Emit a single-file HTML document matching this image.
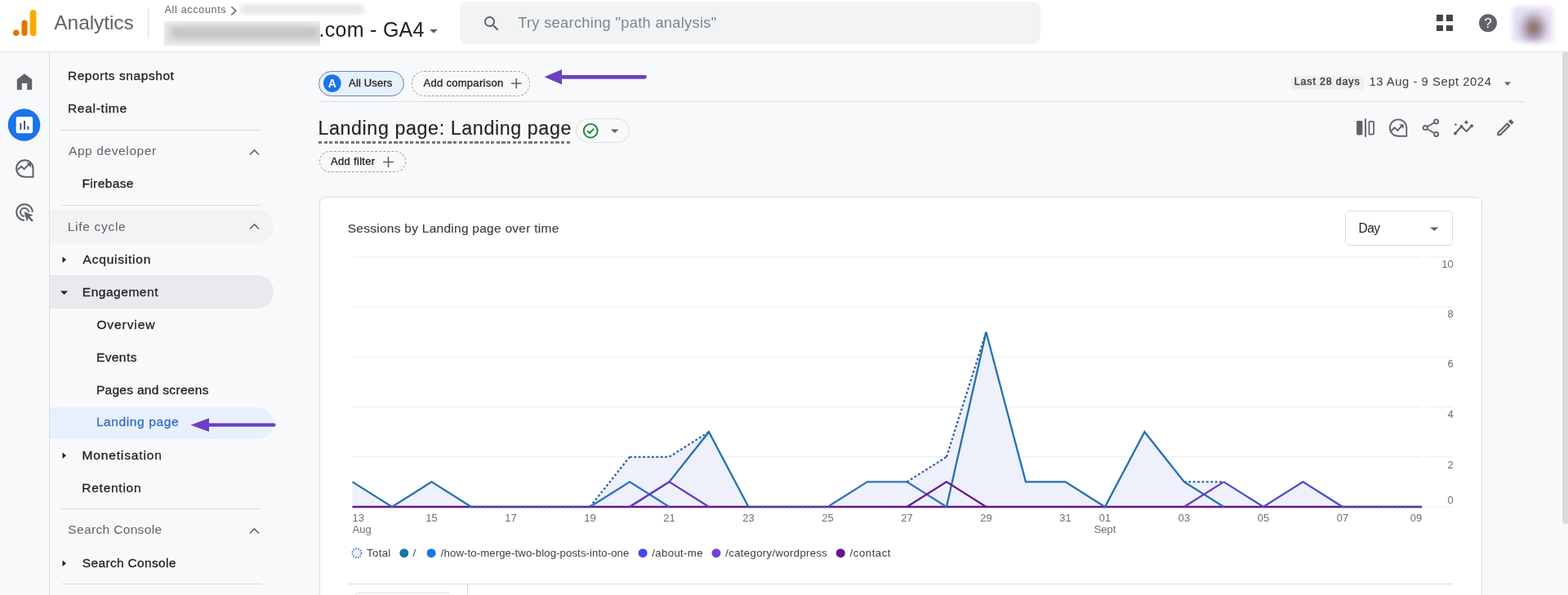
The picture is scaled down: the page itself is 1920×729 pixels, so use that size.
<!DOCTYPE html>
<html><head><meta charset="utf-8"><title>Analytics</title><style>
*{margin:0;padding:0;box-sizing:border-box}
html,body{width:1920px;height:729px;overflow:hidden;background:#f8f9fa;font-family:"Liberation Sans",Arial,sans-serif}
.a{position:absolute}
.t{position:absolute;line-height:1;white-space:nowrap}
.m{-webkit-text-stroke:0.35px currentColor}
svg{position:absolute;overflow:visible}
</style></head>
<body>
<div class="a" style="left:0px;top:0px;width:1920px;height:63px;background:#fff"></div>
<div class="a" style="left:0px;top:63px;width:1920px;height:1px;background:#e3e4e6"></div>
<div class="a" style="left:0px;top:64px;width:1920px;height:2px;background:linear-gradient(#eef0f1,#f8f9fa)"></div>
<svg style="left:0;top:0" width="60" height="60"><circle cx="19.8" cy="40.2" r="3.8" fill="#e37400"/><rect x="26.5" y="24.5" width="7" height="19.6" rx="3.5" fill="#e37400"/><rect x="36.6" y="12" width="7.8" height="32.1" rx="3.9" fill="#f9ab00"/></svg>
<div class="t" style="left:66.35px;top:16.16px;font-size:24.5px;color:#5f6368;letter-spacing:-0.075px;">Analytics</div>
<div class="a" style="left:181px;top:10px;width:1px;height:37px;background:#dadce0"></div>
<div class="t" style="left:201.45px;top:6.32px;font-size:12.5px;color:#5f6368;letter-spacing:0.709px;">All accounts</div>
<svg style="left:281px;top:7px" width="10" height="12"><path d="M2.3 1.2 L7.8 6.3 L2.3 11.4" fill="none" stroke="#5f6368" stroke-width="1.5"/></svg>
<div class="a" style="left:293px;top:5px;width:154px;height:13px;background:#efefef;filter:blur(1.5px);border-radius:5px"></div>
<div class="a" style="left:300px;top:8px;width:140px;height:7px;background:#e5e5e5;filter:blur(2.5px)"></div>
<div class="a" style="left:201px;top:26.4px;width:191px;height:30px;background:#ececec;overflow:hidden"><div class="a" style="left:4px;top:5px;width:190px;height:20px;background:#d6d6d6;filter:blur(3px)"></div><div class="a" style="left:10px;top:8px;width:178px;height:12px;background:#c4c4c4;filter:blur(3.5px);border-radius:6px"></div></div>
<div class="t" style="left:390.60px;top:24.24px;font-size:25px;color:#202124;letter-spacing:0.272px;">.com - GA4</div>
<svg style="left:525.5px;top:35.5px" width="10" height="5"><path d="M0 0 L10 0 L5 4.8 Z" fill="#5f6368"/></svg>
<div class="a" style="left:563px;top:2px;width:711px;height:52px;background:#f1f3f4;border-radius:8px"></div>
<svg style="left:590px;top:17px" width="24" height="24" viewBox="0 0 24 24"><path fill="#5f6368" d="M15.5 14h-.79l-.28-.27A6.47 6.47 0 0 0 16 9.5 6.5 6.5 0 1 0 9.5 16c1.61 0 3.09-.59 4.23-1.57l.27.28v.79l5 4.99L20.49 19l-4.99-5zm-6 0C7.01 14 5 11.99 5 9.5S7.01 5 9.5 5 14 7.01 14 9.5 11.99 14 9.5 14z"/></svg>
<div class="t" style="left:634.20px;top:18.71px;font-size:18.3px;color:#80868b;letter-spacing:0.295px;">Try searching "path analysis"</div>
<div class="a" style="left:1759px;top:18.3px;width:7.599999999999909px;height:7.5px;background:#454545"></div>
<div class="a" style="left:1771.3px;top:18.3px;width:7.599999999999909px;height:7.5px;background:#454545"></div>
<div class="a" style="left:1759px;top:30.9px;width:7.599999999999909px;height:7.5px;background:#454545"></div>
<div class="a" style="left:1771.3px;top:30.9px;width:7.599999999999909px;height:7.5px;background:#454545"></div>
<svg style="left:1810px;top:16px" width="24" height="24" viewBox="0 0 24 24"><circle cx="12" cy="12.2" r="11" fill="#5f6368"/><text x="12" y="18.3" text-anchor="middle" font-family="Liberation Sans" font-weight="400" font-size="17" fill="#fff">?</text></svg>
<div class="a" style="left:1852px;top:8px;width:50px;height:44px;border-radius:6px;background:radial-gradient(ellipse 40% 52% at 52% 60%,#80695a 0%,#978080 30%,#bcaec6 60%,rgba(210,200,228,0) 100%),linear-gradient(90deg,#dfe1f4,#e4dff1 50%,#ede2f0);filter:blur(3px)"></div>
<div class="a" style="left:60px;top:64px;width:1px;height:665px;background:#dadce0"></div>
<svg style="left:18px;top:88px" width="24" height="24" viewBox="0 0 24 24"><path fill="#5f6368" d="M12 2.3 L21.2 9.2 V22 H15.2 V14 H8.8 V22 H2.8 V9.2 Z"/></svg>
<svg style="left:9px;top:133px" width="41" height="41" viewBox="0 0 41 41"><circle cx="20.5" cy="20" r="19.8" fill="#1a73e8"/><rect x="10.7" y="10.1" width="20.4" height="20.2" rx="2.2" fill="#fff"/><rect x="15.3" y="17.8" width="2" height="8" fill="#3d5c8f"/><rect x="20" y="14.9" width="2" height="10.9" fill="#3d5c8f"/><rect x="24.3" y="21.5" width="2.1" height="4.3" fill="#3d5c8f"/></svg>
<svg style="left:18px;top:194px" width="25" height="25" viewBox="0 0 25 25"><path fill="none" stroke="#5f6368" stroke-width="2" d="M22.5 12.5 A10.2 10.2 0 1 0 12.3 22.7 H22.5 Z"/><path fill="none" stroke="#5f6368" stroke-width="2" d="M3.6 14 L8 9.8 L11.5 13.2 L16.8 8"/><path fill="#5f6368" d="M14.2 5.6 H20 V11.4 Z"/></svg>
<svg style="left:18px;top:248px" width="25" height="25" viewBox="0 0 25 25"><path fill="none" stroke="#5f6368" stroke-width="2" d="M12 21.8 A9.8 9.8 0 1 1 21.8 12"/><path fill="none" stroke="#5f6368" stroke-width="2" d="M12 17 A5 5 0 1 1 17 12"/><path fill="#5f6368" d="M11.5 11.5 L22.5 15.8 L18.3 17.6 L22.8 22.1 L21.1 23.8 L16.6 19.3 L14.8 23.5 Z"/></svg>
<div class="t" style="left:82.90px;top:85.38px;font-size:15.5px;color:#1f1f1f;letter-spacing:0.570px;-webkit-text-stroke:0.3px #1f1f1f;">Reports snapshot</div>
<div class="t" style="left:82.90px;top:125.08px;font-size:15.5px;color:#1f1f1f;letter-spacing:0.737px;-webkit-text-stroke:0.3px #1f1f1f;">Real-time</div>
<div class="a" style="left:75px;top:159px;width:245px;height:1px;background:#dadce0"></div>
<div class="t" style="left:83.95px;top:176.88px;font-size:15.5px;color:#5f6368;letter-spacing:0.612px;">App developer</div>
<svg style="left:304.5px;top:181.5px" width="13" height="9"><path d="M1 7.5 L6.5 2 L12 7.5" fill="none" stroke="#5f6368" stroke-width="1.6"/></svg>
<div class="t" style="left:100.40px;top:217.38px;font-size:15.5px;color:#1f1f1f;letter-spacing:0.400px;-webkit-text-stroke:0.3px #1f1f1f;">Firebase</div>
<div class="a" style="left:75px;top:251px;width:245px;height:1px;background:#dadce0"></div>
<div class="a" style="left:61px;top:257px;width:273.5px;height:41px;background:#f1f3f4;border-radius:0 20.5px 20.5px 0"></div>
<div class="t" style="left:82.75px;top:269.88px;font-size:15.5px;color:#5f6368;letter-spacing:0.700px;">Life cycle</div>
<svg style="left:304.5px;top:272.5px" width="13" height="9"><path d="M1 7.5 L6.5 2 L12 7.5" fill="none" stroke="#5f6368" stroke-width="1.6"/></svg>
<svg style="left:76px;top:313.5px" width="6" height="9"><path d="M0.5 0.5 L5 4.3 L0.5 8 Z" fill="#202124"/></svg>
<div class="t" style="left:101.60px;top:309.58px;font-size:15.5px;color:#1f1f1f;letter-spacing:0.780px;-webkit-text-stroke:0.3px #1f1f1f;">Acquisition</div>
<div class="a" style="left:61px;top:337.3px;width:274px;height:40.30000000000001px;background:#e8eaed;border-radius:0 20px 20px 0"></div>
<svg style="left:73.5px;top:356px" width="9" height="6"><path d="M0 0.5 L9 0.5 L4.5 5 Z" fill="#202124"/></svg>
<div class="t" style="left:100.80px;top:349.58px;font-size:15.5px;color:#1f1f1f;letter-spacing:0.528px;-webkit-text-stroke:0.3px #1f1f1f;">Engagement</div>
<div class="t" style="left:118.40px;top:389.88px;font-size:15.5px;color:#1f1f1f;letter-spacing:0.914px;-webkit-text-stroke:0.3px #1f1f1f;">Overview</div>
<div class="t" style="left:117.90px;top:429.58px;font-size:15.5px;color:#1f1f1f;letter-spacing:0.420px;-webkit-text-stroke:0.3px #1f1f1f;">Events</div>
<div class="t" style="left:117.90px;top:469.88px;font-size:15.5px;color:#1f1f1f;letter-spacing:0.300px;-webkit-text-stroke:0.3px #1f1f1f;">Pages and screens</div>
<div class="a" style="left:61px;top:498.5px;width:274px;height:39.0px;background:#e8f0fe;border-radius:0 19.5px 19.5px 0"></div>
<div class="t" style="left:117.90px;top:509.38px;font-size:15.5px;color:#3370c4;letter-spacing:0.605px;-webkit-text-stroke:0.3px #3370c4;">Landing page</div>
<svg style="left:76px;top:554px" width="6" height="9"><path d="M0.5 0.5 L5 4.3 L0.5 8 Z" fill="#202124"/></svg>
<div class="t" style="left:100.40px;top:549.58px;font-size:15.5px;color:#1f1f1f;letter-spacing:0.873px;-webkit-text-stroke:0.3px #1f1f1f;">Monetisation</div>
<div class="t" style="left:100.30px;top:589.58px;font-size:15.5px;color:#1f1f1f;letter-spacing:0.737px;-webkit-text-stroke:0.3px #1f1f1f;">Retention</div>
<div class="a" style="left:75px;top:623px;width:245px;height:1px;background:#dadce0"></div>
<div class="t" style="left:83.30px;top:641.48px;font-size:15.5px;color:#5f6368;letter-spacing:0.346px;">Search Console</div>
<svg style="left:304.5px;top:645.5px" width="13" height="9"><path d="M1 7.5 L6.5 2 L12 7.5" fill="none" stroke="#5f6368" stroke-width="1.6"/></svg>
<svg style="left:76px;top:686px" width="6" height="9"><path d="M0.5 0.5 L5 4.3 L0.5 8 Z" fill="#202124"/></svg>
<div class="t" style="left:100.85px;top:681.58px;font-size:15.5px;color:#1f1f1f;letter-spacing:0.323px;-webkit-text-stroke:0.3px #1f1f1f;">Search Console</div>
<div class="a" style="left:75px;top:715px;width:245px;height:1px;background:#dadce0"></div>
<svg style="left:0;top:0" width="1920" height="729"><path d="M255 518.6 H335.5 a2 2 0 0 1 0 4.2 H255 Z" fill="#6c3fc4"/><path d="M233.5 520.7 L256 512.3 L256 529 Z" fill="#6c3fc4"/><path d="M687 92 H789.5 a2.35 2.35 0 0 1 0 4.7 H687 Z" fill="#6c3fc4"/><path d="M666.5 94.3 L688 85 L688 103.5 Z" fill="#6c3fc4"/></svg>
<div class="a" style="left:390px;top:87px;width:105px;height:31px;background:#e8f0fe;border:1.6px solid #6485bb;border-radius:16px"></div>
<svg style="left:396px;top:91px" width="22" height="22"><circle cx="10.8" cy="11" r="10.8" fill="#1a73e8"/><text x="10.8" y="16" text-anchor="middle" font-family="Liberation Sans" font-weight="700" font-size="14" fill="#fff">A</text></svg>
<div class="t" style="left:427.10px;top:95.40px;font-size:13px;color:#202124;letter-spacing:0.150px;-webkit-text-stroke:0.3px #202124;">All Users</div>
<div class="a" style="left:504px;top:87px;width:144.5px;height:31px;border:1.2px dashed #9aa0a6;border-radius:16px"></div>
<div class="t" style="left:518.60px;top:95.20px;font-size:13px;color:#202124;letter-spacing:0.281px;-webkit-text-stroke:0.3px #202124;">Add comparison</div>
<svg style="left:625.7px;top:96.2px" width="12.5" height="12.5"><path d="M6.25 0 V12.5 M0 6.25 H12.5" stroke="#5f6368" stroke-width="1.6"/></svg>
<div class="a" style="left:391px;top:123.5px;width:1477px;height:1.0px;background:#dadce0"></div>
<div class="a" style="left:1581px;top:92.5px;width:89px;height:17.5px;background:#eff0f2;border-radius:2px"></div>
<div class="t" style="left:1584.82px;top:94.42px;font-size:12.5px;color:#3c4043;letter-spacing:0.818px;-webkit-text-stroke:0.45px #3c4043;">Last 28 days</div>
<div class="t" style="left:1676.40px;top:92.97px;font-size:14.8px;color:#3c4043;letter-spacing:0.550px;">13 Aug - 9 Sept 2024</div>
<svg style="left:1841.5px;top:99.5px" width="8" height="6"><path d="M0 0.5 L8 0.5 L4.0 5 Z" fill="#5f6368"/></svg>
<div class="t" style="left:389.45px;top:146.18px;font-size:23.3px;color:#202124;letter-spacing:0.584px;-webkit-text-stroke:0.1px #202124;">Landing page: Landing page</div>
<div class="a" style="left:390.2px;top:173.2px;width:308.8px;height:2.4000000000000057px;background:repeating-linear-gradient(90deg,#74787c 0 4.2px,transparent 4.2px 6.6px)"></div>
<div class="a" style="left:705px;top:144.5px;width:65.5px;height:30.0px;border:1px solid #dadce0;border-radius:16px"></div>
<svg style="left:713px;top:150px" width="21" height="21"><circle cx="10.2" cy="10.2" r="8.4" fill="none" stroke="#188038" stroke-width="1.8"/><path d="M6.2 10.4 L9 13.2 L14.3 7.6" fill="none" stroke="#188038" stroke-width="1.8"/></svg>
<svg style="left:747.5px;top:158px" width="9.5" height="6"><path d="M0 0.5 L9.5 0.5 L4.75 5 Z" fill="#5f6368"/></svg>
<div class="a" style="left:391px;top:184.5px;width:105.5px;height:26.0px;border:1.2px dashed #9aa0a6;border-radius:14px"></div>
<div class="t" style="left:405.10px;top:191.20px;font-size:13px;color:#202124;letter-spacing:0.300px;-webkit-text-stroke:0.3px #202124;">Add filter</div>
<svg style="left:468.5px;top:191.5px" width="13" height="13"><path d="M6.5 0 V13 M0 6.5 H13" stroke="#5f6368" stroke-width="1.6"/></svg>
<svg style="left:0;top:0" width="1920" height="729"><rect x="1661.1" y="147.9" width="7.3" height="17.5" rx="1.4" fill="#5f6368"/><rect x="1671.1" y="145.3" width="1.9" height="22.6" fill="#5f6368"/><rect x="1676.5" y="148.8" width="5.6" height="15.7" rx="1" fill="none" stroke="#5f6368" stroke-width="1.75"/><path d="M1722.3 156.6 A10.2 10.2 0 1 0 1712.1 166.8 H1722.3 Z" fill="none" stroke="#5f6368" stroke-width="1.9" stroke-linejoin="round"/><circle cx="1720.4" cy="164.8" r="0.9" fill="#fff"/><path d="M1703.6 160.2 L1707.7 156.4 L1711.4 160 L1716.2 154.6" fill="none" stroke="#5f6368" stroke-width="1.9"/><path d="M1713.2 152.4 L1718.8 152.2 L1718.6 157.8 Z" fill="#5f6368"/><g fill="none" stroke="#5f6368" stroke-width="1.8"><circle cx="1758.6" cy="148.9" r="2.6"/><circle cx="1745.3" cy="156.6" r="2.6"/><circle cx="1758.6" cy="164.5" r="2.6"/><path d="M1747.6 155.3 L1756.3 150.2 M1747.6 157.9 L1756.3 163.2"/></g><path d="M1781.9 163.5 L1789.5 155 L1795.6 161 L1802 154.3" fill="none" stroke="#5f6368" stroke-width="2" stroke-linejoin="round"/><circle cx="1781.9" cy="163.5" r="1.9" fill="#5f6368"/><circle cx="1789.5" cy="155" r="1.9" fill="#5f6368"/><circle cx="1802" cy="154.3" r="2" fill="#5f6368"/><path d="M1795.5 146.7 Q1796 149.4 1798.7 149.9 Q1796 150.4 1795.5 153.1 Q1795 150.4 1792.3 149.9 Q1795 149.4 1795.5 146.7 Z" fill="#5f6368"/><path d="M1782.5 150.4 Q1782.8 152.2 1784.6 152.5 Q1782.8 152.8 1782.5 154.6 Q1782.2 152.8 1780.4 152.5 Q1782.2 152.2 1782.5 150.4 Z" fill="#5f6368"/></svg>
<svg style="left:1829.7px;top:143.3px" width="26.7" height="26.7" viewBox="0 0 24 24"><path fill="#5f6368" d="M3 17.25V21h3.75L17.81 9.94l-3.75-3.75L3 17.25zM5.92 19H5v-.92l9.06-9.06.92.92L5.92 19zM20.71 5.63l-2.34-2.34c-.2-.2-.45-.29-.71-.29s-.51.1-.7.29l-1.83 1.83 3.75 3.75 1.83-1.83c.39-.39.39-1.02 0-1.41z"/></svg>
<div class="a" style="left:391px;top:241px;width:1424px;height:499px;background:#fff;border:1px solid #dadce0;border-radius:8px"></div>
<div class="t" style="left:425.77px;top:271.88px;font-size:15.5px;color:#3c4043;letter-spacing:0.262px;-webkit-text-stroke:0.15px #3c4043;">Sessions by Landing page over time</div>
<div class="a" style="left:1647.2px;top:258.3px;width:132.29999999999995px;height:43.19999999999999px;border:1.3px solid #dadce0;border-radius:5px"></div>
<div class="t" style="left:1663.55px;top:271.69px;font-size:15.6px;color:#202124;letter-spacing:-0.625px;">Day</div>
<svg style="left:1751.3px;top:277.7px" width="10.4" height="6"><path d="M0 0.5 L10.4 0.5 L5.2 5 Z" fill="#5f6368"/></svg>
<svg style="left:0;top:0" width="1920" height="729"><path d="M431.5 315.0 H1741 M1745.5 315.0 H1779" stroke="#ececec" stroke-width="1"/><path d="M431.5 376.2 H1741 M1745.5 376.2 H1779" stroke="#ececec" stroke-width="1"/><path d="M431.5 437.4 H1741 M1745.5 437.4 H1779" stroke="#ececec" stroke-width="1"/><path d="M431.5 498.6 H1741 M1745.5 498.6 H1779" stroke="#ececec" stroke-width="1"/><path d="M431.5 559.8 H1741 M1745.5 559.8 H1779" stroke="#ececec" stroke-width="1"/><path d="M1745.5 621 H1779" stroke="#ececec" stroke-width="1"/><polygon points="431.5,621.0 431.50,590.40 480.00,621.00 528.50,590.40 577.00,621.00 625.50,621.00 674.00,621.00 722.50,621.00 771.00,559.80 819.50,559.80 868.00,529.20 916.50,621.00 965.00,621.00 1013.50,621.00 1062.00,590.40 1110.50,590.40 1159.00,559.80 1207.50,406.80 1256.00,590.40 1304.50,590.40 1353.00,621.00 1401.50,529.20 1450.00,590.40 1498.50,590.40 1547.00,621.00 1595.50,590.40 1644.00,621.00 1692.50,621.00 1741.00,621.00 1741.0,621.0" fill="#eef0fb"/><path d="M431.5 621 H1741" stroke="#62198a" stroke-width="2.3"/><polyline points="431.50,590.40 480.00,621.00 528.50,590.40 577.00,621.00" fill="none" stroke="#2870b0" stroke-width="2.3" stroke-linejoin="miter"/><polyline points="722.50,621.00 771.00,590.40 819.50,621.00" fill="none" stroke="#2f72c0" stroke-width="2.3" stroke-linejoin="miter"/><polyline points="1013.50,621.00 1062.00,590.40 1110.50,590.40 1159.00,621.00" fill="none" stroke="#2f72c0" stroke-width="2.3" stroke-linejoin="miter"/><polyline points="771.00,621.00 819.50,590.40 868.00,529.20 916.50,621.00" fill="none" stroke="#2372ad" stroke-width="2.3" stroke-linejoin="miter"/><polyline points="1159.00,621.00 1207.50,406.80 1256.00,590.40 1304.50,590.40 1353.00,621.00 1401.50,529.20 1450.00,590.40 1498.50,621.00" fill="none" stroke="#2372ad" stroke-width="2.3" stroke-linejoin="miter"/><polyline points="771.00,621.00 819.50,590.40 868.00,621.00" fill="none" stroke="#6a38bc" stroke-width="2.3" stroke-linejoin="miter"/><polyline points="1450.00,621.00 1498.50,590.40" fill="none" stroke="#6a38bc" stroke-width="2.3" stroke-linejoin="miter"/><polyline points="1498.50,590.40 1547.00,621.00 1595.50,590.40 1644.00,621.00" fill="none" stroke="#4a4ac6" stroke-width="2.3" stroke-linejoin="miter"/><polyline points="1110.50,621.00 1159.00,590.40 1207.50,621.00" fill="none" stroke="#62198a" stroke-width="2.3" stroke-linejoin="miter"/><path d="M577.00 621.00 L625.50 621.00 M625.50 621.00 L674.00 621.00 M674.00 621.00 L722.50 621.00 M722.50 621.00 L771.00 559.80 M771.00 559.80 L819.50 559.80 M819.50 559.80 L868.00 529.20 M916.50 621.00 L965.00 621.00 M965.00 621.00 L1013.50 621.00 M1110.50 590.40 L1159.00 559.80 M1159.00 559.80 L1207.50 406.80 M1450.00 590.40 L1498.50 590.40 M1644.00 621.00 L1692.50 621.00 M1692.50 621.00 L1741.00 621.00" fill="none" stroke="#2b65a8" stroke-width="2.3" stroke-dasharray="2.8 2.6"/></svg>
<div class="t" style="right:140.2px;top:317.00px;font-size:13px;color:#6b6f74">10</div>
<div class="t" style="right:140.2px;top:378.00px;font-size:13px;color:#6b6f74">8</div>
<div class="t" style="right:140.2px;top:439.30px;font-size:13px;color:#6b6f74">6</div>
<div class="t" style="right:140.2px;top:500.80px;font-size:13px;color:#6b6f74">4</div>
<div class="t" style="right:140.2px;top:562.50px;font-size:13px;color:#6b6f74">2</div>
<div class="t" style="right:140.2px;top:606.00px;font-size:13px;color:#6b6f74">0</div>
<div class="t" style="left:431.5px;top:627.50px;font-size:13px;color:#6b6f74">13</div>
<div class="t" style="left:431.5px;top:641.50px;font-size:13px;color:#6b6f74">Aug</div>
<div class="t" style="left:498.5px;width:60px;text-align:center;top:627.50px;font-size:13px;color:#6b6f74">15</div>
<div class="t" style="left:595.5px;width:60px;text-align:center;top:627.50px;font-size:13px;color:#6b6f74">17</div>
<div class="t" style="left:692.5px;width:60px;text-align:center;top:627.50px;font-size:13px;color:#6b6f74">19</div>
<div class="t" style="left:789.5px;width:60px;text-align:center;top:627.50px;font-size:13px;color:#6b6f74">21</div>
<div class="t" style="left:886.5px;width:60px;text-align:center;top:627.50px;font-size:13px;color:#6b6f74">23</div>
<div class="t" style="left:983.5px;width:60px;text-align:center;top:627.50px;font-size:13px;color:#6b6f74">25</div>
<div class="t" style="left:1080.5px;width:60px;text-align:center;top:627.50px;font-size:13px;color:#6b6f74">27</div>
<div class="t" style="left:1177.5px;width:60px;text-align:center;top:627.50px;font-size:13px;color:#6b6f74">29</div>
<div class="t" style="left:1274.5px;width:60px;text-align:center;top:627.50px;font-size:13px;color:#6b6f74">31</div>
<div class="t" style="left:1323.0px;width:60px;text-align:center;top:627.50px;font-size:13px;color:#6b6f74">01</div>
<div class="t" style="left:1323.0px;width:60px;text-align:center;top:641.50px;font-size:13px;color:#6b6f74">Sept</div>
<div class="t" style="left:1420.0px;width:60px;text-align:center;top:627.50px;font-size:13px;color:#6b6f74">03</div>
<div class="t" style="left:1517.0px;width:60px;text-align:center;top:627.50px;font-size:13px;color:#6b6f74">05</div>
<div class="t" style="left:1614.0px;width:60px;text-align:center;top:627.50px;font-size:13px;color:#6b6f74">07</div>
<div class="t" style="right:178.7px;top:627.50px;font-size:13px;color:#6b6f74">09</div>
<svg style="left:0;top:0" width="1920" height="729"><circle cx="436.9" cy="677.7" r="5.6" fill="#eef0fb" stroke="#3b6fb0" stroke-width="1.6" stroke-dasharray="1.6 1.4"/><circle cx="494.8" cy="677.7" r="5.5" fill="#1774a6"/><circle cx="528.1" cy="677.7" r="5.5" fill="#1a73e8"/><circle cx="787.1" cy="677.7" r="5.5" fill="#4646e6"/><circle cx="877" cy="677.7" r="5.5" fill="#7440d4"/><circle cx="1029.3" cy="677.7" r="5.5" fill="#6a0f8e"/></svg>
<div class="t" style="left:449.00px;top:670.83px;font-size:13.2px;color:#3c4043;letter-spacing:0.350px;">Total</div>
<div class="t" style="left:505.60px;top:670.83px;font-size:13.2px;color:#3c4043;">/</div>
<div class="t" style="left:539.80px;top:670.83px;font-size:13.2px;color:#3c4043;letter-spacing:0.093px;">/how-to-merge-two-blog-posts-into-one</div>
<div class="t" style="left:798.30px;top:670.83px;font-size:13.2px;color:#3c4043;letter-spacing:0.356px;">/about-me</div>
<div class="t" style="left:888.30px;top:670.83px;font-size:13.2px;color:#3c4043;letter-spacing:0.328px;">/category/wordpress</div>
<div class="t" style="left:1040.60px;top:670.83px;font-size:13.2px;color:#3c4043;letter-spacing:0.536px;">/contact</div>
<div class="a" style="left:426px;top:715.2px;width:1353px;height:1.0px;background:#dadce0"></div>
<div class="a" style="left:572px;top:716px;width:1px;height:13px;background:#dadce0"></div>
<div class="a" style="left:433px;top:726px;width:121px;height:14px;border:1px solid #dadce0;border-radius:6px"></div>
<div class="a" style="left:1913px;top:64px;width:8px;height:578px;background:#dadbdd;border-radius:4px 0 0 4px"></div>

</body></html>
